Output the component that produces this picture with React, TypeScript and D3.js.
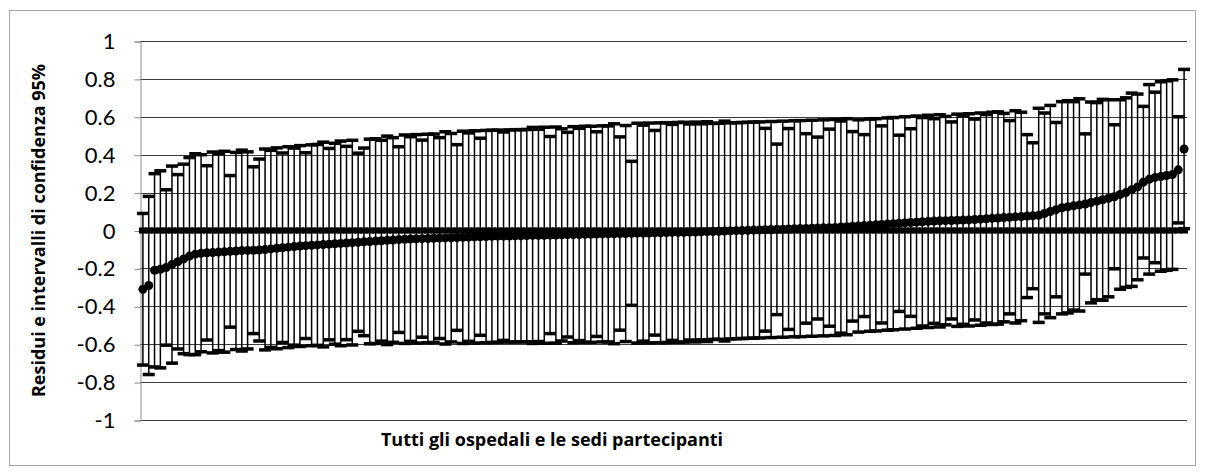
import React, { useRef, useEffect } from "react";
import * as d3 from "d3";

// residuals, sorted ascending (one per hospital / site)
const residuals = [
  -0.31, -0.29, -0.21, -0.205, -0.195, -0.18, -0.165, -0.15, -0.135, -0.125,
  -0.12, -0.118, -0.116, -0.114, -0.112, -0.11, -0.108, -0.106, -0.105, -0.104,
  -0.103, -0.1, -0.097, -0.094, -0.091, -0.088, -0.085, -0.082, -0.08, -0.078,
  -0.076, -0.074, -0.072, -0.07, -0.068, -0.066, -0.064, -0.062, -0.06, -0.058,
  -0.056, -0.054, -0.052, -0.05, -0.048, -0.046, -0.045, -0.044, -0.043, -0.042,
  -0.041, -0.04, -0.039, -0.038, -0.037, -0.036, -0.035, -0.034, -0.033, -0.032,
  -0.031, -0.03, -0.03, -0.029, -0.028, -0.028, -0.027, -0.026, -0.026, -0.025,
  -0.024, -0.024, -0.023, -0.022, -0.022, -0.021, -0.02, -0.02, -0.019, -0.018,
  -0.018, -0.017, -0.016, -0.016, -0.015, -0.014, -0.014, -0.013, -0.012, -0.012,
  -0.011, -0.01, -0.01, -0.009, -0.008, -0.008, -0.007, -0.006, -0.005, -0.004,
  -0.003, -0.002, -0.001, 0, 0.001, 0.002, 0.003, 0.004, 0.005, 0.006,
  0.007, 0.008, 0.009, 0.01, 0.011, 0.012, 0.013, 0.014, 0.015, 0.016,
  0.018, 0.02, 0.022, 0.024, 0.026, 0.028, 0.03, 0.032, 0.034, 0.036,
  0.038, 0.04, 0.042, 0.044, 0.046, 0.048, 0.05, 0.051, 0.052, 0.053,
  0.054, 0.055, 0.056, 0.058, 0.06, 0.062, 0.064, 0.066, 0.068, 0.07,
  0.072, 0.074, 0.076, 0.078, 0.08, 0.09, 0.1, 0.11, 0.12, 0.125,
  0.13, 0.135, 0.14, 0.148, 0.155, 0.162, 0.17, 0.178, 0.19, 0.2,
  0.215, 0.23, 0.255, 0.27, 0.28, 0.285, 0.29, 0.295, 0.32, 0.43,
];

// half width of the 95% confidence interval
const halfWidths = [
  0.4, 0.47, 0.51, 0.52, 0.41, 0.52, 0.46, 0.5, 0.52, 0.53,
  0.52, 0.46, 0.53, 0.52, 0.53, 0.4, 0.52, 0.53, 0.52, 0.44,
  0.48, 0.53, 0.52, 0.53, 0.5, 0.53, 0.52, 0.53, 0.49, 0.53,
  0.53, 0.54, 0.505, 0.53, 0.54, 0.51, 0.54, 0.47, 0.495, 0.54,
  0.54, 0.53, 0.55, 0.54, 0.49, 0.55, 0.54, 0.55, 0.52, 0.55,
  0.55, 0.53, 0.56, 0.55, 0.49, 0.56, 0.55, 0.56, 0.52, 0.56,
  0.56, 0.56, 0.55, 0.56, 0.56, 0.56, 0.56, 0.57, 0.56, 0.57,
  0.52, 0.57, 0.56, 0.54, 0.57, 0.56, 0.57, 0.57, 0.54, 0.57,
  0.57, 0.58, 0.51, 0.57, 0.38, 0.58, 0.57, 0.58, 0.54, 0.58,
  0.58, 0.57, 0.58, 0.58, 0.57, 0.58, 0.57, 0.58, 0.57, 0.57,
  0.58, 0.57, 0.57, 0.57, 0.57, 0.57, 0.57, 0.535, 0.57, 0.45,
  0.57, 0.53, 0.57, 0.57, 0.5, 0.57, 0.48, 0.57, 0.52, 0.57,
  0.56, 0.57, 0.5, 0.56, 0.48, 0.56, 0.56, 0.52, 0.56, 0.56,
  0.465, 0.56, 0.495, 0.56, 0.55, 0.56, 0.54, 0.56, 0.55, 0.52,
  0.56, 0.55, 0.56, 0.53, 0.56, 0.55, 0.56, 0.56, 0.55, 0.51,
  0.56, 0.55, 0.43, 0.385, 0.565, 0.53, 0.56, 0.46, 0.56, 0.56,
  0.55, 0.56, 0.37, 0.53, 0.52, 0.53, 0.52, 0.38, 0.5, 0.5,
  0.51, 0.49, 0.4, 0.5, 0.45, 0.5, 0.5, 0.5, 0.28, 0.42,
];

const yTicks = [1, 0.8, 0.6, 0.4, 0.2, 0, -0.2, -0.4, -0.6, -0.8, -1];
const yTitle = "Residui e intervalli di confidenza 95%";
const xTitle = "Tutti gli ospedali e le sedi partecipanti";

export default function App() {
  const svgRef = useRef<SVGSVGElement | null>(null);

  useEffect(() => {
    if (!svgRef.current) return;
    const width = 1205;
    const height = 474;
    const margin = { top: 41, right: 18, bottom: 54, left: 140 };

    const svg = d3.select(svgRef.current);
    svg.selectAll("*").remove();

    // chart border
    svg.append("rect")
      .attr("x", 9.5).attr("y", 10.5)
      .attr("width", 1186).attr("height", 455)
      .attr("fill", "#fff")
      .attr("stroke", "#a6a6a6");

    const x = d3.scaleBand<number>()
      .domain(residuals.map((_, i) => i))
      .range([margin.left, width - margin.right]);
    const cx = (i: number) => (x(i) as number) + x.bandwidth() / 2;

    const y = d3.scaleLinear()
      .domain([-1, 1])
      .range([height - margin.bottom, margin.top]);

    // gridlines
    svg.selectAll(".grid")
      .data(yTicks)
      .enter()
      .append("line")
      .attr("x1", margin.left)
      .attr("x2", width - margin.right)
      .attr("y1", d => Math.round(y(d)) + 0.5)
      .attr("y2", d => Math.round(y(d)) + 0.5)
      .attr("stroke", "#3c3c3c")
      .attr("stroke-width", 1);

    // y axis
    const yAxis = d3.axisLeft(y)
      .tickValues(yTicks)
      .tickSize(6)
      .tickPadding(19)
      .tickFormat(d => String(+(+d).toFixed(1)));

    const ag = svg.append("g")
      .attr("transform", `translate(${margin.left + 0.5},0.5)`)
      .call(yAxis);
    ag.select(".domain").attr("stroke", "#8c8c8c");
    ag.selectAll(".tick line").attr("stroke", "#8c8c8c");
    ag.selectAll(".tick text")
      .attr("fill", "#000")
      .attr("font-family", "Lato, 'Open Sans', sans-serif")
      .attr("font-size", "22px");

    // zero series (dash markers)
    svg.selectAll(".zero")
      .data(residuals)
      .enter()
      .append("rect")
      .attr("x", (_, i) => cx(i) - 4)
      .attr("y", y(0) - 3)
      .attr("width", 8)
      .attr("height", 6)
      .attr("fill", "#000");

    // error bars
    svg.selectAll(".bar")
      .data(residuals)
      .enter()
      .append("line")
      .attr("x1", (_, i) => cx(i))
      .attr("x2", (_, i) => cx(i))
      .attr("y1", (d, i) => y(d + halfWidths[i]))
      .attr("y2", (d, i) => y(d - halfWidths[i]))
      .attr("stroke", "#000")
      .attr("stroke-width", 1.5);

    const capW = 12;
    const capH = 3.5;
    ["up", "down"].forEach(side => {
      svg.selectAll(`.cap-${side}`)
        .data(residuals)
        .enter()
        .append("rect")
        .attr("x", (_, i) => cx(i) - capW / 2)
        .attr("y", (d, i) => y(side === "up" ? d + halfWidths[i] : d - halfWidths[i]) - capH / 2)
        .attr("width", capW)
        .attr("height", capH)
        .attr("fill", "#000");
    });

    // residual markers
    svg.selectAll(".dot")
      .data(residuals)
      .enter()
      .append("circle")
      .attr("cx", (_, i) => cx(i))
      .attr("cy", d => y(d))
      .attr("r", 4.5)
      .attr("fill", "#000");

    // axis titles
    svg.append("text")
      .attr("transform", `translate(45,${(margin.top + height - margin.bottom) / 2}) rotate(-90)`)
      .attr("text-anchor", "middle")
      .attr("font-family", "'Open Sans', Lato, sans-serif")
      .attr("font-weight", "bold")
      .attr("font-size", "18px")
      .text(yTitle);

    svg.append("text")
      .attr("x", 552)
      .attr("y", 446)
      .attr("text-anchor", "middle")
      .attr("font-family", "'Open Sans', Lato, sans-serif")
      .attr("font-weight", "bold")
      .attr("font-size", "18px")
      .text(xTitle);
  }, []);

  return (
    <svg
      ref={svgRef}
      width={1205}
      height={474}
      style={{ position: "absolute", left: 0, top: 0, background: "#fff" }}
    />
  );
}
